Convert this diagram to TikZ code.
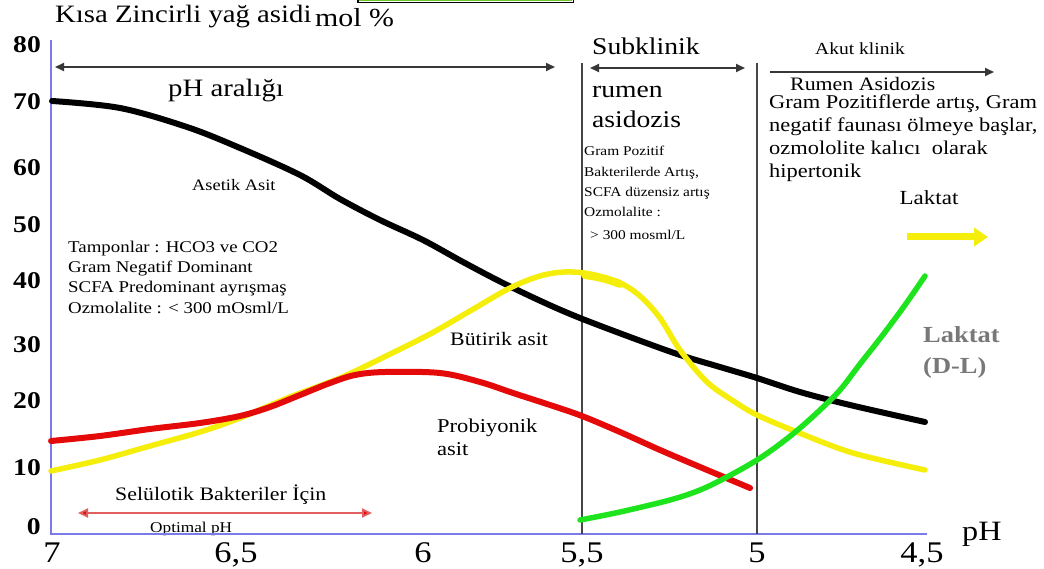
\documentclass[tikz,border=0pt]{standalone}
\usepackage{fontspec}
\setmainfont{Liberation Serif}[FakeStretch=1.15]
\usetikzlibrary{arrows.meta}
\definecolor{axisblue}{RGB}{122,122,235}
\definecolor{ycol}{RGB}{245,238,10}
\definecolor{rcol}{RGB}{228,10,10}
\definecolor{gcol}{RGB}{30,228,30}
\definecolor{arrgray}{RGB}{55,55,55}
\definecolor{vgray}{RGB}{70,70,70}
\definecolor{lgray}{RGB}{120,120,120}
\definecolor{optred}{RGB}{225,95,95}
\definecolor{boxgreen}{RGB}{110,200,40}
\newcommand{\fsz}[1]{\fontsize{#1}{#1}\selectfont}
\tikzset{
  lbl/.style={inner sep=0pt, anchor=base west},
  ylab/.style={inner sep=0pt, anchor=east, font=\bfseries\fsz{24}},
  xlab/.style={inner sep=0pt, anchor=base, font=\fsz{30}},
  curve/.style={line width=5.5pt, line cap=round, line join=round},
  axisline/.style={draw=axisblue, line width=2pt},
  vline/.style={draw=vgray, line width=1.4pt},
  toparr/.style={draw=arrgray, line width=1.8pt},
  ttip/.tip={Triangle[length=9pt,width=8pt]},
}
\begin{document}
\begin{tikzpicture}[x=1pt,y=-1pt]
\useasboundingbox (0,0) rectangle (1044,569);
\fill[white] (0,0) rectangle (1044,569);

% top cut box
\draw[black, line width=1.2pt] (358,-6) rectangle (573.5,2.4);
\draw[boxgreen, line width=0.9pt] (359.6,-6) rectangle (571.9,0.9);

% title
\node[lbl, font=\fsz{25}] (title) at (55,23) {Kısa Zincirli yağ asidi};
\node[lbl, font=\fsz{26}] (molp) at (315,27) {mol \%};

% y labels
\node[ylab] (y80) at (41,45) {80};
\node[ylab] (y70) at (41,102) {70};
\node[ylab] (y60) at (41,168) {60};
\node[ylab] (y50) at (41,225) {50};
\node[ylab] (y40) at (41,281) {40};
\node[ylab] (y30) at (41,345) {30};
\node[ylab] (y20) at (41,401) {20};
\node[ylab] (y10) at (41,468) {10};
\node[ylab] (y0) at (41,527) {0};

% x labels
\node[xlab] (x70) at (52,562) {7};
\node[xlab] (x65) at (236,562) {6,5};
\node[xlab] (x60) at (423,562) {6};
\node[xlab] (x55) at (582,562) {5,5};
\node[xlab] (x50) at (757,562) {5};
\node[xlab] (x45) at (922,562) {4,5};
\node[lbl, font=\fsz{28}] (phlab) at (962,540) {pH};

% optimal pH text (under axis)
\node[lbl, font=\fsz{15}] (optph) at (150,532) {Optimal pH};

% axes
\coordinate (O) at (51,534);
\coordinate (ytop) at (51,40);
\coordinate (xend) at (927,534);
\draw[axisline] (ytop) -- (O) -- (xend);

% vertical lines
\coordinate (v1t) at (582,63);
\coordinate (v1b) at (582,534);
\coordinate (v2t) at (757,63);
\coordinate (v2b) at (757,534);
\draw[vline] (v1t) -- (v1b);
\draw[vline] (v2t) -- (v2b);

% top arrows
\coordinate (a1l) at (55,67);
\coordinate (a1r) at (555,67);
\coordinate (a2l) at (590,68);
\coordinate (a2r) at (745,68);
\coordinate (a3l) at (770,72);
\coordinate (a3r) at (994,72);
\draw[toparr, ttip-ttip] (a1l) -- (a1r);
\draw[toparr, ttip-ttip] (a2l) -- (a2r);
\draw[toparr, -ttip] (a3l) -- (a3r);

% curves
\draw[curve, black, line width=6pt] plot[smooth, tension=0.55] coordinates {
 (52,101) (120,108) (187,127) (240,148) (300,175) (340,199) (380,220) (423,240)
 (463,262) (503,283) (545,303) (580,318) (630,337) (680,355) (720,367) (757,378)
 (800,392) (850,405) (925,422)};
\draw[curve, ycol] plot[smooth, tension=0.55] coordinates {
 (51,471) (100,460) (150,446) (200,432) (240,418) (290,397) (340,378) (380,359)
 (430,334) (470,311) (510,288) (540,276) (565,272) (590,274) (620,283) (640,296)
 (660,318) (680,350) (707,382) (735,402) (757,415) (797,432) (853,453) (925,470)};
\draw[ycol, line width=8pt, line cap=round] (585,275) .. controls (600,277) and (610,280) .. (620,284);
\draw[curve, rcol, line width=6pt] plot[smooth, tension=0.55] coordinates {
 (51,441) (100,436) (150,429) (200,423) (240,416) (270,407) (300,395) (330,383)
 (355,375) (385,372) (440,373) (480,382) (513,393) (550,405) (582,416) (620,432)
 (660,450) (700,467) (750,488)};
\draw[curve, gcol] plot[smooth, tension=0.55] coordinates {
 (580,520) (620,512) (670,500) (700,490) (727,477) (757,460) (780,444) (800,428)
 (820,410) (840,390) (860,364) (882,336) (905,305) (925,276)};

% laktat arrow
\coordinate (la1) at (907,237);
\coordinate (la2) at (988,237);
\draw[ycol, line width=7pt, -{Triangle[length=14pt,width=18pt]}] (la1) -- (la2);

% red optimal arrow
\coordinate (ro1) at (78,513);
\coordinate (ro2) at (372,513);
\draw[optred, line width=1.8pt, {Triangle[length=10pt,width=9pt,fill=rcol]}-{Triangle[length=10pt,width=9pt,fill=rcol]}] (ro1) -- (ro2);

% text labels
\node[lbl, font=\fsz{25}] (pharalik) at (168,97) {pH aralığı};
\node[lbl, font=\fsz{24}] (subk) at (592,55) {Subklinik};
\node[lbl, font=\fsz{24}] (rumen) at (592,98) {rumen};
\node[lbl, font=\fsz{24}] (asid) at (592,128) {asidozis};
\node[lbl, font=\fsz{17}] (akut) at (815,55) {Akut klinik};
\node[lbl, font=\fsz{19}] (rumas) at (790,91) {Rumen Asidozis};
\node[lbl, font=\fsz{19.5}] (g1) at (769,109) {Gram Pozitiflerde artış, Gram};
\node[lbl, font=\fsz{19.5}] (g2) at (769,132) {negatif faunası ölmeye başlar,};
\node[lbl, font=\fsz{19.5}] (g3) at (769,155) {ozmololite kalıcı~ olarak};
\node[lbl, font=\fsz{19.5}] (g4) at (769,178) {hipertonik};
\node[lbl, font=\fsz{13.4}] (s1) at (584,156) {Gram Pozitif};
\node[lbl, font=\fsz{13.4}] (s2) at (584,177) {Bakterilerde Artış,};
\node[lbl, font=\fsz{13.4}] (s3) at (584,197) {SCFA düzensiz artış};
\node[lbl, font=\fsz{13.4}] (s4) at (584,217) {Ozmolalite :};
\node[lbl, font=\fsz{13.4}] (s5) at (590,240) {> 300 mosml/L};
\node[inner sep=0pt, anchor=base, font=\fsz{20}] (laktat) at (929,205) {Laktat};
\node[lbl, font=\bfseries\fsz{23}, text=lgray] (ldl1) at (923,342) {Laktat};
\node[lbl, font=\bfseries\fsz{23}, text=lgray] (ldl2) at (923,373) {(D-L)};
\node[lbl, font=\fsz{16}] (asetik) at (192,191) {Asetik Asit};
\node[lbl, font=\fsz{16.4}] (t1) at (68,253) {Tamponlar : HCO3 ve CO2};
\node[lbl, font=\fsz{16.4}] (t2) at (68,273) {Gram Negatif Dominant};
\node[lbl, font=\fsz{16.4}] (t3) at (68,293) {SCFA Predominant ayrışmaş};
\node[lbl, font=\fsz{16.4}] (t4) at (68,313) {Ozmolalite : < 300 mOsml/L};
\node[lbl, font=\fsz{19}] (butirik) at (450,345) {Bütirik asit};
\node[lbl, font=\fsz{19.6}] (prob1) at (437,432) {Probiyonik};
\node[lbl, font=\fsz{19.6}] (prob2) at (437,455) {asit};
\node[lbl, font=\fsz{19}] (selu) at (115,500) {Selülotik Bakteriler İçin};
\end{tikzpicture}
\end{document}
